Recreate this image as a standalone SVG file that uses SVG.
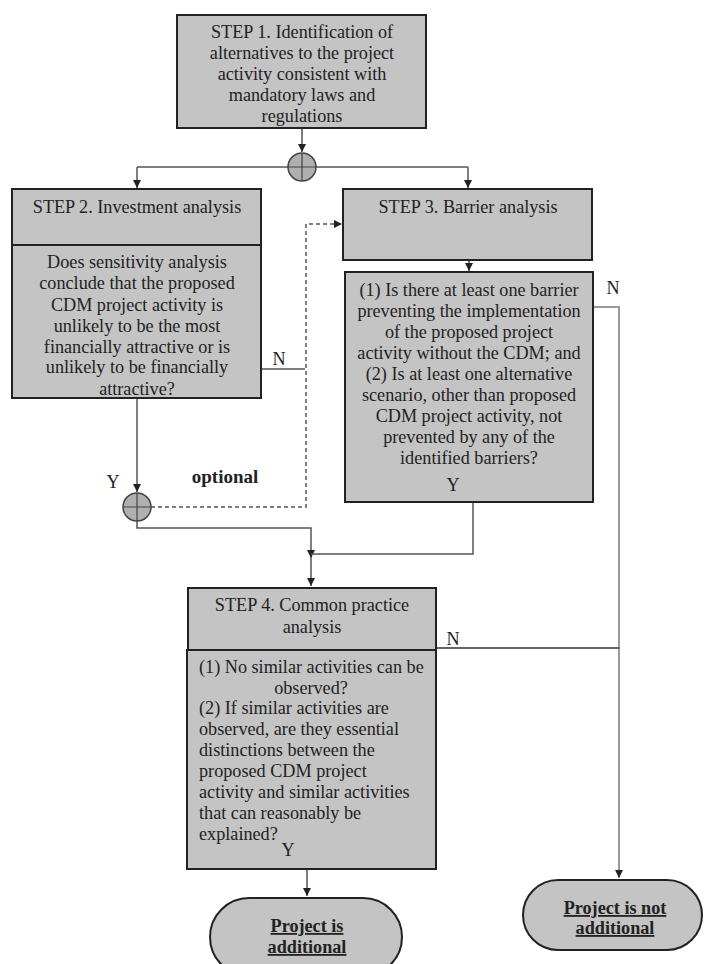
<svg xmlns="http://www.w3.org/2000/svg" width="707" height="964" viewBox="0 0 707 964">
<style>
.box{fill:#c4c4c4;stroke:#222;stroke-width:2}
.t{font-family:'Liberation Serif','Times New Roman',Tinos,'DejaVu Serif',serif;font-size:18.2px;fill:#222}
.c{text-anchor:middle}
.b{font-weight:bold}
.u{text-decoration:underline}
.ln{fill:none;stroke:#555;stroke-width:1.5}
.lg{fill:none;stroke:#999;stroke-width:2}
.ld{fill:none;stroke:#555;stroke-width:1.5;stroke-dasharray:4 3}
.jn{fill:#b0b0b0;stroke:#444;stroke-width:1.5}
</style>
<defs>
<marker id="ah" markerUnits="userSpaceOnUse" markerWidth="9" markerHeight="9" refX="8" refY="4" orient="auto">
<path d="M0,0 L8,4 L0,8 z" fill="#222"/>
</marker>
<clipPath id="c2"><rect x="12" y="245" width="249" height="153"/></clipPath>
</defs>
<rect width="707" height="964" fill="#fff"/>

<g id="connectors">
<path class="ln" d="M302,128 V152" marker-end="url(#ah)"/>
<path class="ln" d="M137,167 H468"/>
<path class="ln" d="M137,167 V188" marker-end="url(#ah)"/>
<path class="ln" d="M468,167 V188" marker-end="url(#ah)"/>
<path class="ln" d="M469,260 V271" marker-end="url(#ah)"/>
<path class="ln" d="M261,369 H305"/>
<path class="ld" d="M151,507 H306 V224 H342" marker-end="url(#ah)"/>
<path class="ln" d="M137,398 V492" marker-end="url(#ah)"/>
<path class="ln" d="M137,521 V528 H311 V558" marker-end="url(#ah)"/>
<path class="ln" d="M311,558 V586" marker-end="url(#ah)"/>
<path class="ln" d="M473,502 V554 H311"/>
<path class="lg" d="M593,307 H619 V878" marker-end="url(#ah)"/>
<path class="ln" d="M435,648 H619" style="stroke:#333"/>
<path class="ln" d="M307,815 V896" marker-end="url(#ah)"/>
</g>

<g id="junction1">
<circle class="jn" cx="302" cy="167" r="14"/>
<path d="M288,167 H316 M302,153 V181" stroke="#444" stroke-width="1.2"/>
</g>
<g id="junction2">
<circle class="jn" cx="137" cy="507" r="14"/>
<path d="M123,507 H151 M137,493 V521" stroke="#444" stroke-width="1.2"/>
</g>

<g font-family="Liberation Serif, Times New Roman, DejaVu Serif, serif">
<g id="step1">
<rect class="box" x="177" y="15" width="249" height="113"/>
<text class="t c" x="302" y="38">STEP 1. Identification of</text>
<text class="t c" x="302" y="59">alternatives to the project</text>
<text class="t c" x="302" y="80">activity consistent with</text>
<text class="t c" x="302" y="101">mandatory laws and</text>
<text class="t c" x="302" y="122">regulations</text>
</g>

<g id="step2">
<rect class="box" x="12" y="189" width="249" height="56"/>
<text class="t c" x="137" y="213">STEP 2. Investment analysis</text>
<rect class="box" x="12" y="245" width="249" height="153"/>
<g clip-path="url(#c2)">
<text class="t c" x="137" y="268">Does sensitivity analysis</text>
<text class="t c" x="137" y="289">conclude that the proposed</text>
<text class="t c" x="137" y="311">CDM project activity is</text>
<text class="t c" x="137" y="332">unlikely to be the most</text>
<text class="t c" x="137" y="353">financially attractive or is</text>
<text class="t c" x="137" y="373">unlikely to be financially</text>
<text class="t c" x="137" y="395">attractive?</text>
</g>
<rect x="12" y="245" width="249" height="153" fill="none" stroke="#222" stroke-width="2"/>
</g>

<g id="step3">
<rect class="box" x="343" y="189" width="249" height="71"/>
<text class="t c" x="468" y="213">STEP 3. Barrier analysis</text>
</g>

<g id="step3q">
<rect class="box" x="345" y="272" width="248" height="230"/>
<text class="t c" x="469" y="296">(1) Is there at least one barrier</text>
<text class="t c" x="469" y="317">preventing the implementation</text>
<text class="t c" x="469" y="338">of the proposed project</text>
<text class="t c" x="469" y="359">activity without the CDM; and</text>
<text class="t c" x="469" y="380">(2) Is at least one alternative</text>
<text class="t c" x="469" y="401">scenario, other than proposed</text>
<text class="t c" x="469" y="422">CDM project activity, not</text>
<text class="t c" x="469" y="443">prevented by any of the</text>
<text class="t c" x="469" y="464">identified barriers?</text>
</g>

<g id="step4">
<rect class="box" x="188" y="588" width="248" height="62"/>
<text class="t c" x="312" y="611">STEP 4. Common practice</text>
<text class="t c" x="312" y="633">analysis</text>
</g>

<g id="step4q">
<rect class="box" x="187" y="650" width="249" height="219"/>
<text class="t" x="199" y="673">(1) No similar activities can be</text>
<text class="t c" x="311" y="694">observed?</text>
<text class="t" x="199" y="714">(2) If similar activities are</text>
<text class="t" x="199" y="735">observed, are they essential</text>
<text class="t" x="199" y="756">distinctions between the</text>
<text class="t" x="199" y="777">proposed CDM project</text>
<text class="t" x="199" y="798">activity and similar activities</text>
<text class="t" x="199" y="819">that can reasonably be</text>
<text class="t" x="199" y="840">explained?</text>
</g>

<g id="additional">
<rect class="box" x="210" y="898" width="192" height="78" rx="39"/>
<text class="t c b u" x="307" y="932">Project is</text>
<text class="t c b u" x="307" y="953">additional</text>
</g>

<g id="notadditional">
<rect class="box" x="523" y="880" width="179" height="70" rx="35"/>
<text class="t c b u" x="615" y="914">Project is not</text>
<text class="t c b u" x="615" y="934">additional</text>
</g>

<g id="labels">
<text class="t c" x="279" y="365">N</text>
<text class="t c" x="613" y="294">N</text>
<text class="t c" x="453" y="645">N</text>
<text class="t c" x="113" y="488">Y</text>
<text class="t c" x="453" y="491">Y</text>
<text class="t c" x="288" y="856">Y</text>
<text class="t c b" x="225" y="483" style="font-size:19px">optional</text>
</g>
</g>
</svg>
